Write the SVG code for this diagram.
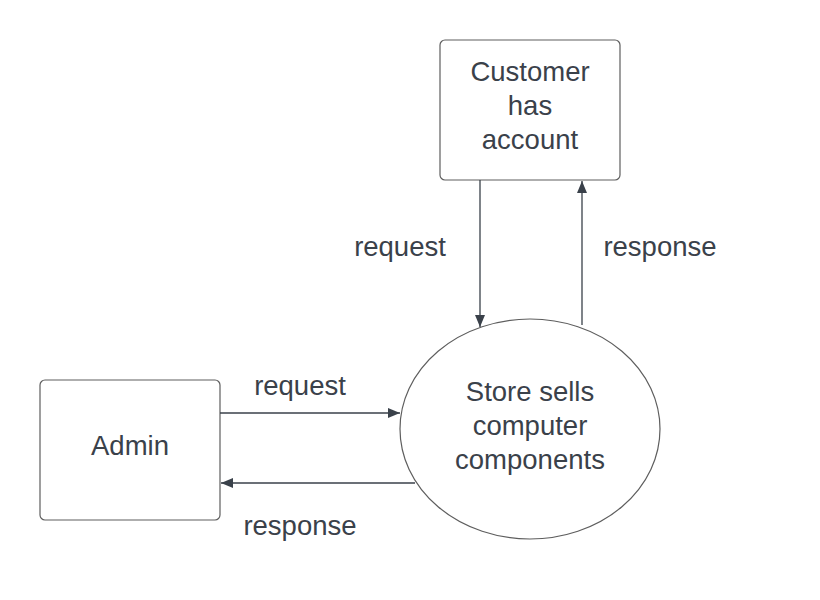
<svg xmlns="http://www.w3.org/2000/svg" width="820" height="600" viewBox="0 0 820 600">
<defs>
<marker id="ah" markerWidth="12" markerHeight="12" viewBox="0 0 12 12" refX="12" refY="6" orient="auto" markerUnits="userSpaceOnUse">
<path d="M0,1 L12,6 L0,11 Z" fill="#3a414a"/>
</marker>
<style>
.box{fill:#fff;stroke:#5e5e5e;stroke-width:1.2}
.lbl{font-family:"Liberation Sans",Arial,sans-serif;font-size:27.5px;fill:#3a414a;text-anchor:middle}
.edge{fill:none;stroke:#3a414a;stroke-width:1.3;marker-end:url(#ah)}
</style>
</defs>
<rect width="820" height="600" fill="#fff"/>
<g id="customer">
<rect class="box" x="440" y="40" width="180" height="140" rx="5"/>
<text class="lbl" x="530" y="81">Customer</text>
<text class="lbl" x="530" y="115">has</text>
<text class="lbl" x="530" y="149">account</text>
</g>
<g id="admin">
<rect class="box" x="40" y="380" width="180" height="140" rx="5"/>
<text class="lbl" x="130" y="455">Admin</text>
</g>
<g id="store">
<ellipse class="box" cx="530" cy="429" rx="130" ry="110"/>
<text class="lbl" x="530" y="401">Store sells</text>
<text class="lbl" x="530" y="435">computer</text>
<text class="lbl" x="530" y="469">components</text>
</g>
<g id="connectors">
<path class="edge" d="M480,180 L480,327"/>
<path class="edge" d="M582,325 L582,181"/>
<path class="edge" d="M220,413 L400,413"/>
<path class="edge" d="M415,483 L221,483"/>
<text class="lbl" x="400" y="256">request</text>
<text class="lbl" x="660" y="256">response</text>
<text class="lbl" x="300" y="395">request</text>
<text class="lbl" x="300" y="535">response</text>
</g>
</svg>
